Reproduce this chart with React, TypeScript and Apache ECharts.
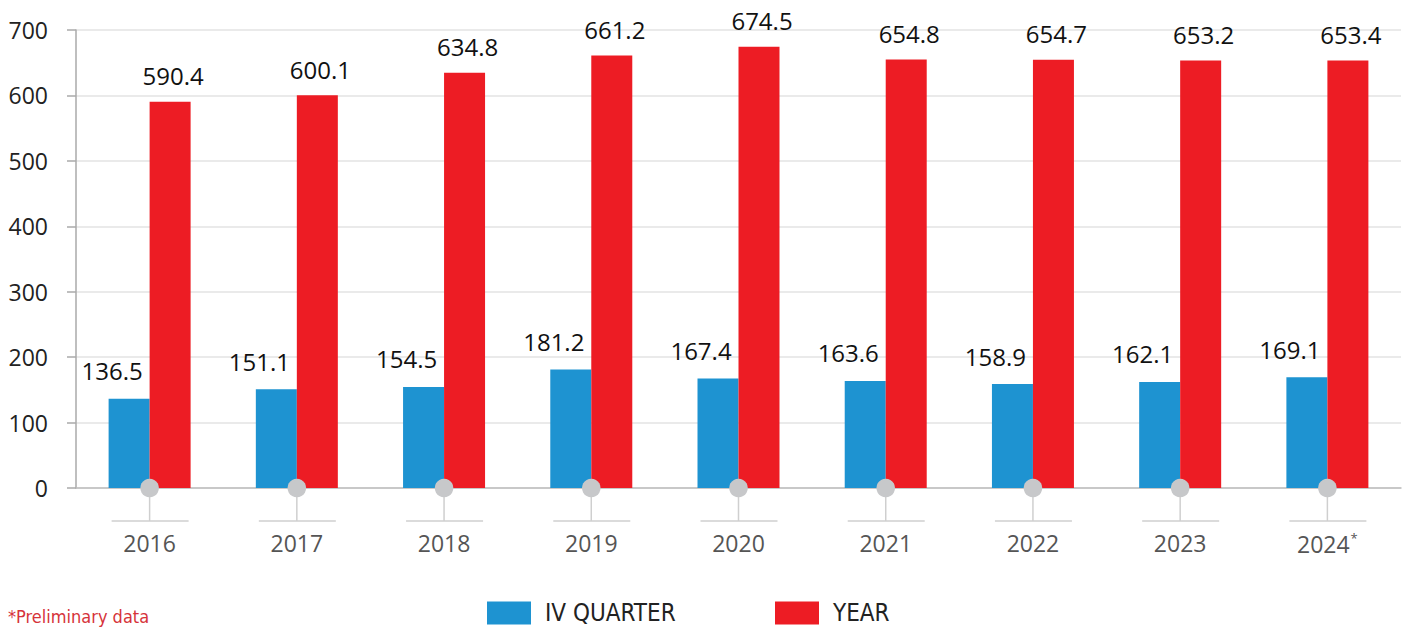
import React, { useEffect, useRef } from "react";
import * as echarts from "echarts";

const categories = ["2016", "2017", "2018", "2019", "2020", "2021", "2022", "2023", "2024"];
const quarterValues = [136.5, 151.1, 154.5, 181.2, 167.4, 163.6, 158.9, 162.1, 169.1];
const yearValues = [590.4, 600.1, 634.8, 661.2, 674.5, 654.8, 654.7, 653.2, 653.4];
const seriesNames = ["IV QUARTER", "YEAR"];
const footnote = "*Preliminary data";

const FONT = "'Open Sans', 'Noto Sans', sans-serif";
const NARROW = "'Liberation Sans Narrow', 'DejaVu Sans Condensed', sans-serif";

export default function App() {
  const ref = useRef<HTMLDivElement>(null);
  useEffect(() => {
    if (!ref.current) return;
    const chart = echarts.init(ref.current, null, { renderer: "svg" });
    const legendBase = {
      top: 601,
      padding: 0,
      itemWidth: 44,
      itemHeight: 23,
      icon: "rect",
      textStyle: {
        fontFamily: NARROW,
        fontSize: 24,
        lineHeight: 23,
        color: "#222",
        padding: [0, 0, 0, 9],
      },
    };
    const option: any = {
      animation: false,
      grid: { left: 76, right: 6, top: 30, bottom: 140, containLabel: false },
      legend: [
        { ...legendBase, data: [seriesNames[0]], left: 487 },
        { ...legendBase, data: [seriesNames[1]], left: 775 },
      ],
      graphic: [
        {
          type: "text",
          left: 8,
          top: 607,
          style: { text: footnote, fontFamily: NARROW, fontSize: 18, fill: "#d6333a" },
        },
      ],
      xAxis: {
        type: "category",
        data: categories,
        axisLine: { show: true, lineStyle: { color: "#bdbdbd", width: 1.5 } },
        axisTick: { show: false },
        axisLabel: {
          interval: 0,
          margin: 43,
          fontFamily: FONT,
          fontSize: 23,
          color: "#555",
          formatter: (v: string) => (v === "2024" ? "2024{sup|*}" : v),
          rich: {
            sup: { fontSize: 13, color: "#555", verticalAlign: "top", padding: [0, 0, 12, 1] },
          },
        },
      },
      yAxis: {
        type: "value",
        min: 0,
        max: 700,
        interval: 100,
        axisLine: { show: true, lineStyle: { color: "#aaa", width: 1.5 } },
        axisTick: { show: true, length: 9, lineStyle: { color: "#aaa", width: 1.5 } },
        axisLabel: { margin: 28, fontFamily: FONT, fontSize: 23, color: "#222" },
        splitLine: { lineStyle: { color: "#e3e3e3", width: 1.5 } },
      },
      series: [
        {
          name: seriesNames[0],
          type: "bar",
          data: quarterValues,
          barWidth: 41,
          barGap: "0%",
          itemStyle: { color: "#1e93d1" },
          label: {
            show: true,
            position: "top",
            distance: 16,
            offset: [-17, 0],
            fontFamily: FONT,
            fontSize: 24,
            color: "#111",
            formatter: (p: any) => p.value.toFixed(1),
          },
        },
        {
          name: seriesNames[1],
          type: "bar",
          data: yearValues,
          barWidth: 41,
          barGap: "0%",
          itemStyle: { color: "#ed1c24" },
          label: {
            show: true,
            position: "top",
            distance: 14,
            offset: [3, 0],
            fontFamily: FONT,
            fontSize: 24,
            color: "#111",
            formatter: (p: any) => p.value.toFixed(1),
          },
        },
        {
          name: "markers",
          type: "custom",
          clip: false,
          z: 10,
          silent: true,
          data: categories.map((_, i) => [i, 0]),
          encode: { x: 0, y: 1 },
          renderItem: (params: any, api: any) => {
            const pt = api.coord([api.value(0), 0]);
            const x = pt[0];
            const y = pt[1];
            return {
              type: "group",
              children: [
                {
                  type: "line",
                  shape: { x1: x, y1: y, x2: x, y2: y + 33 },
                  style: { stroke: "#cfcfcf", lineWidth: 1.5 },
                },
                {
                  type: "line",
                  shape: { x1: x - 38, y1: y + 33, x2: x + 39, y2: y + 33 },
                  style: { stroke: "#cfcfcf", lineWidth: 1.5 },
                },
                {
                  type: "circle",
                  shape: { cx: x, cy: y, r: 9.3 },
                  style: { fill: "#c7c8ca" },
                },
              ],
            };
          },
        },
      ],
    };
    chart.setOption(option);
    return () => chart.dispose();
  }, []);
  return (
    <div
      ref={ref}
      style={{ position: "absolute", left: 0, top: 0, width: 1407, height: 628, background: "#fff" }}
    />
  );
}
